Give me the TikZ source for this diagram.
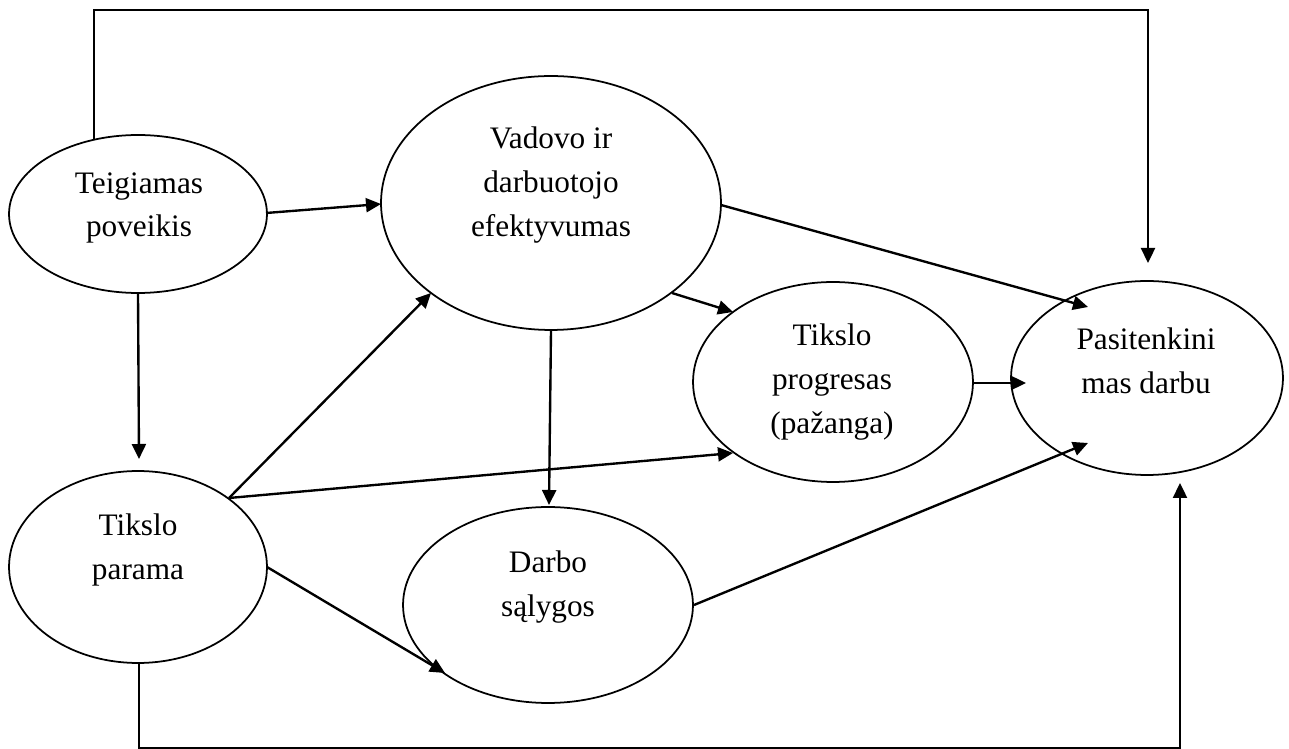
\documentclass[tikz,border=0pt]{standalone}
\usepackage{fontspec}
\setmainfont{Liberation Serif}
\usetikzlibrary{shapes.geometric,arrows.meta,calc}
\begin{document}
\begin{tikzpicture}[x=0.02cm,y=-0.02cm,
  ell/.style={ellipse, draw, line width=1pt, inner sep=0pt, outer sep=0pt},
  lbl/.style={align=center, inner sep=0pt, font=\fontsize{17.8}{24.8}\selectfont},
  arr/.style={line width=1.35pt, -{Triangle[length=0.3cm,width=0.28cm]}}]
\useasboundingbox (0,0) rectangle (1289,749);
\fill[white] (0,0) rectangle (1289,749);

% ellipses
\node[ell, minimum width=5.16cm, minimum height=3.16cm] (tp) at (138,214) {};
\node[ell, minimum width=6.8cm,  minimum height=5.08cm] (vd) at (551,203) {};
\node[ell, minimum width=5.6cm,  minimum height=4.0cm]  (pr) at (833,382) {};
\node[ell, minimum width=5.44cm, minimum height=3.88cm] (ps) at (1147,378) {};
\node[ell, minimum width=5.16cm, minimum height=3.84cm] (pa) at (138,567) {};
\node[ell, minimum width=5.8cm,  minimum height=3.92cm] (ds) at (548,605) {};

% labels
\node[lbl] (tpt) at (139,208) {Teigiamas\\poveikis};
\node[lbl] (vdt) at (551,185) {Vadovo ir\\darbuotojo\\efektyvumas};
\node[lbl] (prt) at (832,382) {Tikslo\\progresas\\(pažanga)};
\node[lbl] (pst) at (1146,361) {Pasitenkini\\mas darbu};
\node[lbl] (pat) at (138,550) {Tikslo\\parama};
\node[lbl] (dst) at (548,587) {Darbo\\sąlygos};

% loop corners
\coordinate (tl) at (94,10);
\coordinate (tr) at (1148,10);
\coordinate (bl) at (139,748.6);
\coordinate (br) at (1180,748.6);

% connectors
\draw[arr] ($(tp)+(128,-1)$) -- ($(vd)+(-170,1)$);
\draw[arr] ($(tp)+(0,79)$) -- ($(pa)+(1,-108)$);
\draw[arr] ($(vd)+(170,2)$) -- ($(ps)+(-59,-71)$);
\draw[arr] ($(vd)+(121,90)$) -- ($(pr)+(-100,-70)$);
\draw[arr] ($(vd)+(0,127)$) -- ($(ds)+(1,-100)$);
\draw[arr] ($(pr)+(140,1)$) -- ($(ps)+(-121,5)$);
\draw[arr] ($(pa)+(91,-69)$) -- ($(vd)+(-120,90)$);
\draw[arr] ($(pa)+(91,-69)$) -- ($(pr)+(-100,71)$);
\draw[arr] ($(pa)+(129,0)$) -- ($(ds)+(-103,68)$);
\draw[arr] ($(ds)+(146,0)$) -- ($(ps)+(-59,65)$);
\draw[arr] ($(tp)+(-44,-75)$) -- (tl) -- (tr) -- ($(ps)+(1,-115)$);
\draw[arr] ($(pa)+(1,96)$) -- (bl) -- (br) -- ($(ps)+(33,105)$);
\end{tikzpicture}
\end{document}
